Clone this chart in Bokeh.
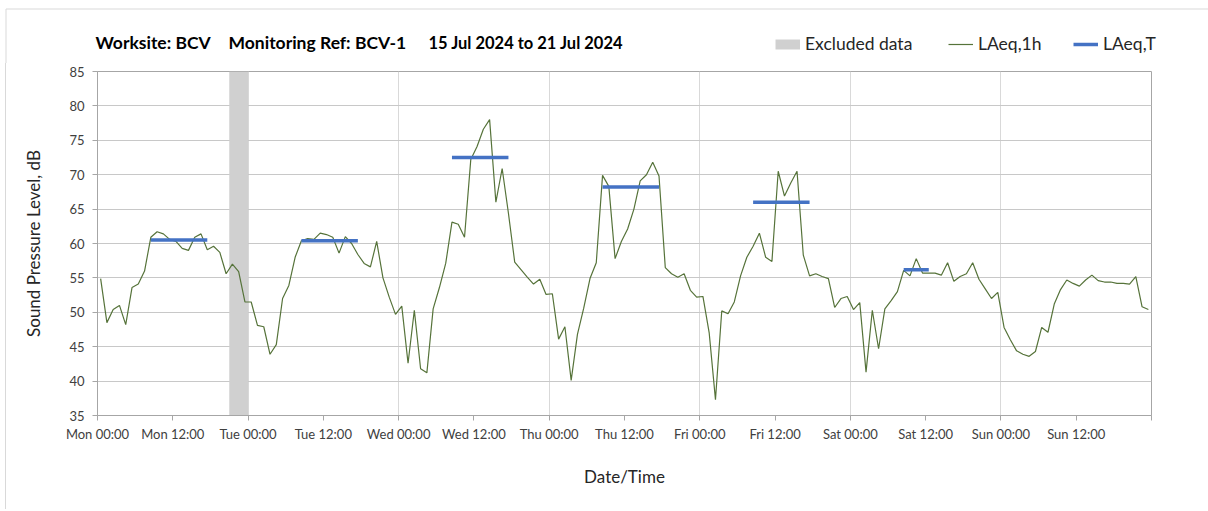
from bokeh.plotting import figure
from bokeh.models import (ColumnDataSource, FixedTicker, Legend, LegendItem, Range1d, Label, Div)
from bokeh.layouts import column, row
from bokeh.embed import file_html
from bokeh.resources import INLINE

# ---------------- data ----------------
# hourly LAeq,1h values, Mon 00:00 .. Sun 23:00 (168 hours)
laeq_1h = [
    54.9, 48.5, 50.4, 51.0, 48.2, 53.6, 54.1, 56.0, 60.9, 61.7, 61.4, 60.6,
    60.3, 59.3, 59.0, 60.9, 61.4, 59.1, 59.6, 58.7, 55.6, 57.0, 55.9, 51.5,
    51.5, 48.1, 47.9, 43.9, 45.3, 52.0, 53.9, 58.0, 60.4, 60.7, 60.6, 61.5,
    61.3, 60.9, 58.6, 61.0, 60.0, 58.4, 57.1, 56.6, 60.3, 55.0, 52.2, 49.7,
    50.9, 42.6, 50.3, 41.8, 41.2, 50.5, 53.6, 57.1, 63.1, 62.8, 60.9, 72.2,
    74.1, 76.6, 78.0, 66.0, 70.9, 64.4, 57.3, 56.2, 55.1, 54.1, 54.8, 52.6,
    52.7, 46.1, 47.9, 40.1, 46.8, 50.6, 54.9, 57.2, 69.9, 68.3, 57.8, 60.3,
    62.1, 65.0, 69.1, 70.0, 71.8, 69.8, 56.5, 55.6, 55.1, 55.6, 53.2, 52.2,
    52.3, 47.0, 37.3, 50.2, 49.8, 51.5, 55.3, 58.0, 59.6, 61.5, 58.0, 57.4,
    70.5, 66.9, 68.8, 70.5, 58.3, 55.3, 55.6, 55.2, 54.9, 50.7, 52.0, 52.3,
    50.4, 51.4, 41.3, 50.3, 44.7, 50.5, 51.7, 53.0, 56.1, 55.3, 57.8, 55.7,
    55.7, 55.7, 55.4, 57.2, 54.5, 55.2, 55.6, 57.2, 54.8, 53.4, 52.0, 52.9,
    47.8, 46.0, 44.4, 43.9, 43.6, 44.3, 47.8, 47.1, 51.2, 53.3, 54.7, 54.2,
    53.8, 54.7, 55.4, 54.6, 54.4, 54.4, 54.2, 54.2, 54.1, 55.2, 50.8, 50.4,
]

# LAeq,T periods (hour index of first and last hourly value) and levels
laeq_t_first_hour = [8, 32, 56, 80, 104, 128]
laeq_t_last_hour = [17, 41, 65, 89, 113, 132]
laeq_t_value = [60.5, 60.4, 72.5, 68.2, 66.0, 56.2]

# excluded data period (hours from Mon 00:00)
excluded_start = [21]
excluded_end = [24]

days = ["Mon", "Tue", "Wed", "Thu", "Fri", "Sat", "Sun"]
tick_hours = list(range(0, 169, 12))
tick_labels = {h: (f"{days[h // 24]} {h % 24:02d}:00" if h < 168 else "") for h in tick_hours}
y_ticks = list(range(35, 86, 5))

title_parts = ["Worksite: BCV", "Monitoring Ref: BCV-1", "15 Jul 2024 to 21 Jul 2024"]
legend_labels = ["Excluded data", "LAeq,1h", "LAeq,T"]

# ---------------- styles ----------------
FONT = "Lato"
GREEN = "#56733a"
BLUE = "#4472c4"
GREY_BAND = "#d0d0d0"
FRAME_GREY = "#d9d9d9"
NAN = float("nan")

W, H_HEAD, H_MAIN, STRIP = 1208, 63, 446, 6

# ---------------- header (title + legend) ----------------
head = figure(width=W, height=H_HEAD, output_backend="svg", toolbar_location=None,
              x_range=Range1d(0, W), y_range=Range1d(H_HEAD, 0),
              x_axis_type=None, y_axis_type=None,
              min_border_left=0, min_border_right=0, min_border_top=0, min_border_bottom=0)
head.outline_line_color = None
head.grid.visible = False
head.background_fill_color = "white"
head.border_fill_color = "white"
# outer chart frame (top and left)
head.line([5.5, W], [8.5, 8.5], line_color=FRAME_GREY, line_width=1)
head.line([5.5, 5.5], [8.5, H_HEAD], line_color=FRAME_GREY, line_width=1)

for txt, xpos, fs in zip(title_parts, [95, 228, 428], ["17.5px", "17.5px", "16.5px"]):
    head.add_layout(Label(x=xpos, y=42, text=txt, text_font=FONT, text_font_size=fs,
                          text_font_style="bold", text_color="#000000",
                          text_baseline="middle", text_align="left"))

# legend-only renderers (no visible data)
r_ex = head.line([NAN, NAN], [NAN, NAN], line_color=GREY_BAND, line_width=10)
r_g = head.line([NAN, NAN], [NAN, NAN], line_color=GREEN, line_width=1.2)
r_b = head.line([NAN, NAN], [NAN, NAN], line_color=BLUE, line_width=3.5)
for lab, rend, xpos in zip(legend_labels, [r_ex, r_g, r_b], [775, 948, 1073]):
    lg = Legend(items=[LegendItem(label=lab, renderers=[rend])],
                orientation="horizontal", location=(xpos, 9),
                padding=0, margin=0, spacing=0, label_standoff=5,
                glyph_width=25, glyph_height=20, label_height=20,
                border_line_color=None, background_fill_alpha=0,
                label_text_font=FONT, label_text_font_size="17.5px",
                label_text_color="#262626")
    head.add_layout(lg, "center")

# ---------------- left strip (outer frame line) ----------------
strip = Div(text="", width=STRIP, height=H_MAIN, margin=0,
            styles={"border-right": f"1px solid {FRAME_GREY}", "box-sizing": "border-box"})

# ---------------- main chart ----------------
p = figure(width=W - STRIP, height=H_MAIN, output_backend="svg", toolbar_location=None,
           x_range=Range1d(0, 168), y_range=Range1d(35, 85),
           min_border_left=91, min_border_right=57, min_border_top=8, min_border_bottom=94)
p.background_fill_color = "white"
p.border_fill_color = "white"
p.outline_line_color = "#a6a6a6"
p.outline_line_width = 1

src_ex = ColumnDataSource(dict(left=excluded_start, right=excluded_end,
                               bottom=[35] * len(excluded_start), top=[85] * len(excluded_start)))
p.quad(left="left", right="right", bottom="bottom", top="top", source=src_ex,
       fill_color=GREY_BAND, line_color=None)

hours = [i + 0.5 for i in range(len(laeq_1h))]
p.line(hours, laeq_1h, line_color=GREEN, line_width=1.2)

src_t = ColumnDataSource(dict(x0=[h + 0.5 for h in laeq_t_first_hour],
                              x1=[h + 0.5 for h in laeq_t_last_hour],
                              y=laeq_t_value))
p.segment(x0="x0", y0="y", x1="x1", y1="y", source=src_t, line_color=BLUE, line_width=3.5)

xa = p.xaxis[0]
xa.ticker = FixedTicker(ticks=tick_hours)
xa.major_label_overrides = tick_labels
xa.minor_tick_line_color = None
xa.major_tick_out = 5
xa.major_tick_in = 0
xa.major_label_standoff = 5
xa.axis_line_color = "#a6a6a6"
xa.major_tick_line_color = "#a6a6a6"
xa.major_label_text_font = FONT
xa.major_label_text_font_size = "13px"
xa.major_label_text_color = "#404040"
xa.axis_label = "Date/Time"
xa.axis_label_text_font = FONT
xa.axis_label_text_font_size = "17px"
xa.axis_label_text_font_style = "normal"
xa.axis_label_text_color = "#262626"
xa.axis_label_standoff = 21

ya = p.yaxis[0]
ya.ticker = FixedTicker(ticks=y_ticks)
ya.minor_tick_line_color = None
ya.major_tick_out = 5
ya.major_tick_in = 0
ya.major_label_standoff = 8
ya.axis_line_color = "#a6a6a6"
ya.major_tick_line_color = "#a6a6a6"
ya.major_label_text_font = FONT
ya.major_label_text_font_size = "13px"
ya.major_label_text_color = "#404040"
ya.axis_label = "Sound Pressure Level, dB"
ya.axis_label_text_font = FONT
ya.axis_label_text_font_size = "17px"
ya.axis_label_text_font_style = "normal"
ya.axis_label_text_color = "#262626"
ya.axis_label_standoff = 22

p.xgrid.ticker = FixedTicker(ticks=[24, 48, 72, 96, 120, 144])
p.xgrid.grid_line_color = "#d9d9d9"
p.xgrid.grid_line_width = 1
p.ygrid.ticker = FixedTicker(ticks=y_ticks)
p.ygrid.grid_line_color = "#c8c8c8"
p.ygrid.grid_line_width = 1.2

layout = column(head, row(strip, p, spacing=0), spacing=0)
open("out.html", "w").write(file_html(layout, INLINE))
